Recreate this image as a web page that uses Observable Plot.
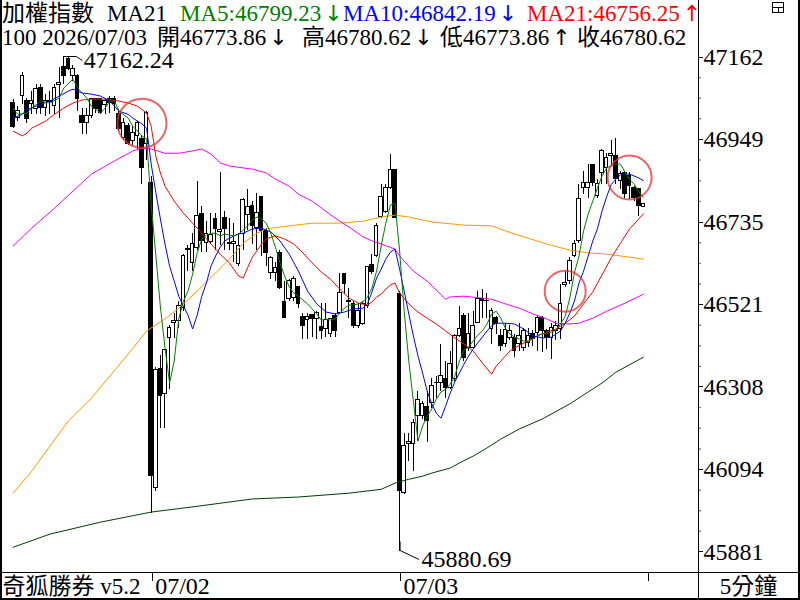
<!DOCTYPE html>
<html><head><meta charset="utf-8">
<script src="https://cdn.jsdelivr.net/npm/d3@7"></script>
<script src="https://cdn.jsdelivr.net/npm/@observablehq/plot@0.6"></script>
<style>body{margin:0;background:#fff}svg{display:block}</style>
</head><body><div id="chart"></div>
<script>
// ---- 5-minute candles (07/01 tail, 07/02, 07/03) ----
const opens = [47043,47004,47061,47048,47040,47027,47082,47030,47048,47035,
47090,47136,47157,47113,47113,47009,46991,47009,47053,47053,
47038,47053,47053,47014,46952,46983,46945,46958,46950,46937,
46836,46046,46354,46289,46434,46473,46478,46512,46662,46629,
46668,46756,46680,46683,46743,46709,46745,46678,46678,46626,
46704,46753,46776,46719,46800,46712,46603,46603,46655,46528,
46535,46538,46567,46489,46481,46494,46484,46463,46458,46445,
46491,46499,46600,46528,46523,46466,46471,46517,46624,46647,
46748,46761,46823,46870,46548,46033,46160,46160,46232,46232,
46256,46266,46317,46318,46328,46305,46328,46440,46491,46409,
46409,46473,46535,46530,46458,46486,46440,46419,46435,46435,
46419,46409,46422,46445,46447,46486,46453,46435,46453,46458,
46572,46582,46647,46686,46823,46823,46882,46802,46862,46875,
46906,46906,46841,46862,46854,46823,46820,46773.86];
const highs = [47051,47035,47123,47056,47074,47092,47092,47066,47074,47092,
47134,47162.24,47160,47139,47118,47030,47030,47056,47056,47056,
47056,47061,47061,47027,47004,46991,46983,46996,46958,47022,
46854,46359,46390,46406,46466,46499,46530,46652,46673,46706,
46841,46776,46737,46758,46756,46862,46763,46743,46730,46704,
46797,46820,46789,46810,46800,46717,46647,46629,46660,46582,
46587,46595,46569,46497,46499,46494,46504,46523,46525,46484,
46497,46603,46603,46564,46530,46525,46530,46621,46652,46730,
46833,46833,46911,46872,46556,46188,46188,46225,46297,46271,
46297,46331,46336,46419,46375,46401,46445,46517,46497,46499,
46504,46556,46559,46551,46510,46491,46458,46473,46466,46445,
46471,46460,46460,46453,46491,46491,46458,46471,46478,46574,
46608,46642,46688,46831,46867,46885,46885,46846,46924,46913,
46947,46950,46867,46867,46862,46828,46823,46780.62];
const lows = [46978,46996,47040,46991,47014,47014,47014,47009,47014,47014,
47004,47092,47126,47100,47022,46962,46962,47004,47017,47014,
47014,47017,47022,46970,46945,46932,46932,46924,46833,46893,
45981,46038,46201,46201,46302,46434,46460,46504,46608,46608,
46660,46655,46655,46678,46660,46673,46660,46660,46629,46621,
46660,46712,46678,46660,46647,46621,46587,46582,46561,46486,
46530,46530,46510,46432,46432,46435,46432,46432,46435,46435,
46435,46497,46548,46486,46460,46460,46466,46512,46600,46642,
46745,46758,46820,46745,45880.69,46030,46116,46090,46168,46225,
46163,46253,46279,46297,46279,46302,46323,46435,46375,46401,
46406,46471,46486,46486,46419,46445,46401,46409,46427,46383,
46401,46401,46409,46414,46401,46396,46406,46380,46427,46432,
46566,46574,46642,46680,46807,46797,46828,46797,46833,46833,
46880,46833,46820,46797,46794,46789,46750,46773.86];
const closes = [46981,47022,47113,47002,47048,47079,47030,47048,47046,47082,
47095,47113,47131,47131,47053,46991,47009,47053,47027,47017,
47048,47043,47040,46976,46991,46937,46965,46991,46875,47017,
46077,46352,46284,46403,46460,46478,46517,46647,46665,46678,
46750,46686,46704,46701,46717,46714,46717,46680,46683,46673,
46792,46774,46725,46758,46712,46655,46642,46616,46564,46486,
46582,46587,46523,46466,46489,46484,46499,46453,46481,46484,
46453,46551,46574,46530,46466,46504,46523,46618,46605,46725,
46800,46823,46870,46745,46038,46155,46165,46214,46274,46264,
46220,46310,46319,46336,46305,46367,46440,46458,46383,46445,
46466,46535,46530,46531,46504,46471,46414,46455,46453,46401,
46440,46453,46440,46432,46486,46453,46435,46460,46466,46522,
46577,46634,46678,46794,46836,46836,46836,46833,46919,46900,
46911,46846,46859,46807,46828,46797,46776,46780.62];

// ---- moving averages: [bar, value] ----
const ma5 = [[0,47027],[1,47014],[3,47017],[4,47030],[6,47048],[8,47043],[10,47056],[11,47082],[13,47105],[14,47082],[16,47056],[17,47035],[19,47017],[20,47030],[21,47048],[22,47048],[23,47022],[25,47004],[26,46983],[28,46958],[29,46950],[30,46780],[31,46650],[32,46515],[33,46410],[34,46318],[35,46375],[36,46484],[37,46530],[38,46556],[39,46600],[40,46655],[41,46691],[42,46701],[43,46706],[44,46706],[45,46699],[46,46704],[47,46701],[48,46699],[49,46704],[50,46714],[51,46725],[52,46740],[53,46748],[54,46743],[55,46732],[56,46706],[57,46670],[58,46629],[59,46595],[60,46567],[61,46551],[62,46543],[63,46533],[64,46523],[65,46510],[66,46497],[67,46481],[68,46484],[69,46481],[70,46484],[71,46499],[72,46512],[73,46520],[74,46520],[75,46523],[76,46528],[77,46541],[78,46564],[79,46608],[80,46673],[81,46732],[82,46779],[83,46784],[84,46660],[85,46504],[86,46375],[87,46271],[88,46168],[89,46207],[90,46232],[91,46251],[92,46277],[93,46295],[94,46302],[95,46315],[96,46336],[97,46375],[98,46403],[99,46411],[100,46427],[101,46442],[102,46453],[103,46471],[104,46497],[105,46504],[106,46486],[107,46460],[108,46445],[109,46437],[110,46432],[111,46427],[112,46427],[113,46432],[114,46442],[115,46445],[116,46447],[117,46450],[118,46455],[119,46471],[120,46491],[121,46538],[122,46603],[123,46647],[124,46712],[125,46756],[126,46789],[127,46823],[128,46854],[129,46875],[130,46880],[131,46885],[132,46885],[133,46864],[134,46846],[135,46833],[136,46813],[137,46799.23]];
const ma10 = [[0,47004],[2,47014],[3,47027],[4,47030],[6,47040],[8,47048],[10,47061],[12,47074],[13,47079],[15,47069],[17,47066],[19,47061],[21,47048],[23,47022],[25,47014],[26,47004],[28,46989],[29,46978],[30,46885],[31,46812],[32,46743],[33,46678],[34,46621],[35,46582],[36,46543],[37,46517],[38,46494],[39,46458],[40,46494],[41,46543],[42,46577],[43,46621],[44,46647],[45,46670],[46,46686],[47,46693],[48,46699],[49,46704],[50,46706],[52,46717],[54,46719],[56,46709],[58,46686],[60,46652],[62,46608],[64,46556],[66,46523],[68,46502],[70,46497],[72,46502],[74,46510],[76,46512],[77,46523],[78,46554],[79,46590],[80,46613],[81,46639],[82,46657],[83,46665],[84,46613],[85,46556],[86,46497],[87,46440],[88,46388],[89,46344],[90,46297],[91,46264],[92,46240],[93,46227],[94,46258],[95,46292],[96,46321],[97,46344],[98,46367],[99,46388],[100,46406],[101,46422],[102,46437],[103,46453],[104,46466],[105,46473],[107,46473],[109,46471],[111,46458],[113,46440],[115,46435],[117,46437],[119,46453],[120,46473],[121,46499],[122,46530],[123,46577],[124,46608],[125,46647],[126,46686],[127,46717],[128,46763],[129,46800],[130,46832],[131,46846],[132,46857],[133,46859],[134,46859],[135,46854],[136,46849],[137,46842.19]];
const ma21 = [[0,46970],[2,46958],[3,46965],[4,46978],[7,46996],[9,47014],[11,47030],[13,47043],[15,47051],[17,47053],[20,47053],[23,47048],[25,47043],[27,47035],[29,47017],[30,46983],[31,46906],[32,46862],[33,46828],[35,46789],[37,46758],[39,46732],[41,46706],[43,46678],[45,46652],[47,46629],[49,46595],[50,46590],[51,46618],[52,46644],[54,46678],[55,46691],[57,46699],[59,46691],[61,46678],[63,46655],[65,46629],[67,46605],[69,46587],[71,46561],[73,46538],[75,46525],[77,46520],[78,46528],[79,46541],[80,46548],[81,46561],[82,46572],[83,46577],[84,46551],[86,46523],[88,46502],[90,46486],[92,46471],[94,46453],[96,46435],[98,46419],[100,46401],[102,46370],[104,46341],[105,46362],[106,46375],[108,46401],[110,46416],[112,46427],[114,46440],[116,46450],[118,46458],[120,46473],[122,46491],[124,46523],[126,46554],[128,46598],[130,46642],[132,46680],[134,46717],[136,46743],[137,46756.25]];
const ma60 = [[0,46673],[4,46719],[9,46771],[13,46815],[17,46859],[22,46893],[26,46919],[28,46926],[30,46924],[33,46913],[36,46913],[39,46919],[41,46924],[43,46911],[45,46888],[47,46880],[50,46875],[52,46872],[55,46862],[57,46846],[60,46828],[62,46807],[65,46789],[67,46771],[70,46745],[73,46722],[76,46697],[78,46686],[80,46678],[83,46665],[84,46647],[87,46608],[90,46582],[94,46535],[95,46541],[98,46543],[102,46538],[104,46535],[107,46523],[110,46512],[113,46497],[116,46484],[118,46473],[121,46471],[123,46473],[126,46486],[129,46504],[133,46525],[137,46548]];
const ma120 = [[0,46033],[4,46090],[8,46155],[12,46220],[17,46279],[21,46336],[25,46393],[29,46453],[33,46484],[36,46512],[40,46556],[44,46603],[47,46639],[50,46680],[53,46706],[55,46717],[60,46725],[65,46732],[71,46732],[76,46737],[80,46748],[83,46753],[86,46748],[91,46735],[98,46727],[104,46725],[107,46712],[112,46693],[116,46678],[121,46662],[125,46655],[129,46652],[134,46644],[137,46639]];
const ma240 = [[0,45893],[8,45927],[19,45958],[30,45984],[40,45999],[52,46018],[62,46023],[73,46033],[80,46043],[83,46059],[86,46069],[89,46077],[91,46085],[95,46098],[97,46111],[100,46129],[103,46150],[106,46173],[110,46199],[115,46225],[119,46251],[121,46264],[125,46295],[128,46318],[131,46346],[137,46385]];

// ---- signals (circled bars) and axis ticks ----
const signalBars = [28, 120, 134];
const signalVals = [46991, 46556, 46850];
const yTicks = [47162, 46949, 46735, 46521, 46308, 46094, 45881];
const dayBars = [30, 84];
const dayLabels = ["07/02", "07/03"];
const maxBar = 11, maxVal = 47162.24;
const minBar = 84, minVal = 45880.69;

const FONT = "'Liberation Serif','Times New Roman','DejaVu Serif','Noto Sans CJK TC',serif";
const bars = opens.map((o, i) => ({i, open: o, high: highs[i], low: lows[i], close: closes[i]}));
const up = bars.filter(d => d.close >= d.open);
const down = bars.filter(d => d.close < d.open);
const pts = arr => arr.map(([i, v]) => ({i, v}));
const minor = [];
for (let k = 0; k < yTicks.length - 1; k++) for (let q = 1; q < 4; q++) minor.push(yTicks[k] + (yTicks[k+1]-yTicks[k]) * q / 4);
const radii = [24.5, 20.5, 22];
const lineMark = (arr, color) => Plot.line(pts(arr), {x: "i", y: "v", stroke: color, strokeWidth: 1});
const txt = {fontFamily: FONT, fill: "#000"};

const fig = Plot.plot({
  width: 800, height: 600,
  marginLeft: 0, marginRight: 102, marginTop: 0, marginBottom: 28,
  style: {fontFamily: FONT, background: "#fff"},
  x: {domain: [-2.76, 148.98], axis: null},
  y: {domain: [45827.6, 47308.5], axis: null},
  r: {type: "identity"},
  marks: [
    Plot.ruleX(bars, {x: "i", y1: "low", y2: "high", stroke: "#000", strokeWidth: 1, shapeRendering: "crispEdges"}),
    Plot.rect(down, {x1: d => d.i - 0.4, x2: d => d.i + 0.4, y1: "open", y2: "close", fill: "#000", stroke: "#000", strokeWidth: 1, shapeRendering: "crispEdges"}),
    Plot.rect(up, {x1: d => d.i - 0.4, x2: d => d.i + 0.4, y1: "open", y2: "close", fill: "#fff", stroke: "#000", strokeWidth: 1, shapeRendering: "crispEdges"}),
    lineMark(ma240, "#003d00"),
    lineMark(ma120, "#ff9900"),
    lineMark(ma60, "#ff00ff"),
    lineMark(ma21, "#ff0000"),
    lineMark(ma10, "#0000ff"),
    lineMark(ma5, "#008000"),
    Plot.dot(signalBars.map((b, k) => ({i: b, v: signalVals[k]})), {x: "i", y: "v", r: (d, k) => radii[k], stroke: "#e83030", strokeOpacity: 0.75, strokeWidth: 2, fill: "none"}),
    Plot.text([{i: maxBar, v: maxVal}], {x: "i", y: "v", text: d => d.v.toFixed(2), dx: 20, dy: 3, textAnchor: "start", lineAnchor: "middle", fontSize: 24, ...txt}),
    Plot.text([{i: minBar, v: minVal}], {x: "i", y: "v", text: d => d.v.toFixed(2), dx: 22, dy: 7, textAnchor: "start", lineAnchor: "middle", fontSize: 24, ...txt}),
    Plot.text(yTicks, {y: d => d, text: d => String(d), frameAnchor: "right", textAnchor: "start", lineAnchor: "middle", dx: 5, fontSize: 24, ...txt}),
    Plot.dot(minor, {y: d => d, frameAnchor: "right", dx: 1.5, r: 0.7, fill: "#000"}),
    Plot.text(dayBars.map((b, k) => ({i: b, t: dayLabels[k]})), {x: "i", text: "t", frameAnchor: "bottom", textAnchor: "start", lineAnchor: "middle", dx: 4, dy: 14, fontSize: 24, ...txt}),
    Plot.text(["奇狐勝券 v5.2"], {frameAnchor: "bottom-left", textAnchor: "start", lineAnchor: "middle", dx: 2, dy: 14, fontSize: 23, ...txt}),
    Plot.text(["5分鐘"], {frameAnchor: "bottom-right", textAnchor: "middle", lineAnchor: "middle", dx: 50, dy: 14, fontSize: 23, ...txt})
  ]
});
document.getElementById("chart").appendChild(fig);

// ---- decorations: borders, leaders, header ----
const sx = fig.scale("x"), sy = fig.scale("y");
const X = v => sx.apply ? sx.apply(v) : d3.scaleLinear(sx.domain, sx.range)(v);
const Y = v => sy.apply ? sy.apply(v) : d3.scaleLinear(sy.domain, sy.range)(v);
const svg = d3.select(fig);
const g = svg.append("g").attr("stroke", "#000").attr("fill", "none").attr("shape-rendering", "crispEdges");
const L = (x1, y1, x2, y2, w = 1) => g.append("line").attr("x1", x1).attr("y1", y1).attr("x2", x2).attr("y2", y2).attr("stroke-width", w);
L(1, 0, 1, 600, 2); L(698.5, 0, 698.5, 600); L(799, 0, 799, 600, 2);
L(0, 572.5, 800, 572.5); L(0, 599, 800, 599, 2);
yTicks.forEach(t => L(698, Math.round(Y(t)) + 0.5, 703, Math.round(Y(t)) + 0.5));
[...dayBars, opens.length].forEach(b => L(Math.round(X(b)) + 1.5, 572, Math.round(X(b)) + 1.5, 581));
// top-right icon
g.append("rect").attr("x", 772.5).attr("y", 2.5).attr("width", 11).attr("height", 10);
L(772, 7.5, 784, 7.5); L(778.5, 7, 778.5, 13);
// leaders
const ax = X(maxBar), ay = Y(maxVal);
svg.append("path").attr("d", `M${ax},${ay}h13l6,4`).attr("stroke", "#000").attr("fill", "none");
const bx = X(minBar), by = Y(minVal);
svg.append("path").attr("d", `M${bx + 1},${by - 10}v9l19,9`).attr("stroke", "#000").attr("fill", "none");
// header
const hdr = svg.append("g").attr("font-family", FONT).attr("font-size", 23).attr("text-anchor", "start");
const T = (x, y, s, c, arrow) => {
  const t = hdr.append("text").attr("x", x).attr("y", y).attr("fill", c).attr("text-anchor", "start").text(s);
  if (arrow) t.append("tspan").attr("dx", 3).attr("font-family", "'DejaVu Sans',sans-serif").attr("font-size", 22).text(arrow);
};
T(2, 21, "加權指數", "#000"); T(107, 21, "MA21", "#000");
T(180, 21, "MA5:46799.23", "#008000", "↓");
T(343, 21, "MA10:46842.19", "#0000ff", "↓");
T(527, 21, "MA21:46756.25", "#ff0000", "↑");
T(2, 45, "100 2026/07/03", "#000");
T(157, 45, "開46773.86", "#000", "↓"); T(302, 45, "高46780.62", "#000", "↓");
T(440, 45, "低46773.86", "#000", "↑"); T(577, 45, "收46780.62", "#000");
</script></body></html>
